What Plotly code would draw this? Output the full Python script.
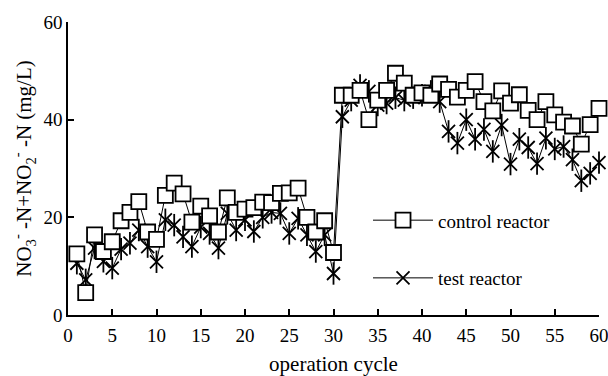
import plotly.graph_objects as go

cycles = list(range(1, 61))
control = [12.5, 4.6, 16.4, 13, 15, 19.3, 21, 23.2, 17, 15.5,
           24.5, 27, 24.8, 19, 22.3, 20.3, 17, 24, 21, 21.7,
           22, 23.1, 23, 24.9, 25, 26, 20, 17, 19.3, 12.8,
           45, 45, 46, 40, 44, 46, 49.5, 47.5, 45, 45.5,
           45, 47.3, 46.2, 44.6, 46, 47.8, 43.7, 41.8, 45.9, 43.4,
           45.1, 41.9, 40, 43.7, 41, 39.5, 38.7, 35, 39, 42.3]
test = [10.6, 7.2, 13.7, 11, 9.6, 13.5, 14.7, 17.4, 14, 10.9,
        19.5, 18.4, 16, 14, 18, 16.7, 13.7, 20.8, 17.4, 19.5,
        17.1, 20, 21, 20.8, 16.7, 19.8, 16.4, 13, 16.4, 8.5,
        40.6, 44, 47, 45.8, 43, 43.4, 44.5, 44, 44.5, 45,
        45.8, 43.7, 37.6, 35.2, 40, 36, 38, 33.5, 38.9, 30.9,
        36, 34.3, 31, 36.2, 34, 34.5, 31.8, 27.5, 29, 31.2]

FONT = "Liberation Serif"

fig = go.Figure()
fig.add_trace(go.Scatter(
    x=cycles, y=test, name="test reactor", mode="markers",
    legendgroup="t", showlegend=False, cliponaxis=False,
    marker=dict(symbol="line-ns-open", size=16, color="black",
                line=dict(color="black", width=1.8)),
))
fig.add_trace(go.Scatter(
    x=cycles, y=test, name="test reactor", mode="lines+markers",
    legendgroup="t", legendrank=2, cliponaxis=False,
    line=dict(color="black", width=1),
    marker=dict(symbol="x-thin-open", size=13, color="black",
                line=dict(color="black", width=1.8)),
))
fig.add_trace(go.Scatter(
    x=cycles, y=control, name="control reactor", mode="lines+markers",
    legendgroup="c", legendrank=1, cliponaxis=False,
    line=dict(color="black", width=1),
    marker=dict(symbol="square", size=15, color="white",
                line=dict(color="black", width=1.8)),
))

fig.update_layout(
    width=608, height=376,
    margin=dict(l=68, r=9, t=22, b=61),
    paper_bgcolor="white", plot_bgcolor="white",
    font=dict(family=FONT, size=19, color="black"),
    showlegend=True,
    legend=dict(x=0.565, y=0.388, xanchor="left", yanchor="top",
                bgcolor="rgba(0,0,0,0)", itemwidth=60,
                tracegroupgap=30, font=dict(family=FONT, size=19)),
    xaxis=dict(range=[0, 60], tickvals=list(range(0, 61, 5)),
               showline=True, linecolor="black", linewidth=1.5,
               ticks="inside", ticklen=6, tickwidth=1.5, tickcolor="black",
               showgrid=False, zeroline=False, ticklabeloverflow="allow",
               ticklabelstandoff=2, automargin=False,
               tickfont=dict(family=FONT, size=19),
               title=dict(text="operation cycle", standoff=14,
                          font=dict(family=FONT, size=21))),
    yaxis=dict(range=[0, 60], tickvals=[0, 20, 40, 60],
               showline=True, linecolor="black", linewidth=1.5,
               ticks="inside", ticklen=6, tickwidth=1.5, tickcolor="black",
               showgrid=False, zeroline=False, automargin=False,
               tickfont=dict(family=FONT, size=19),
               title=dict(text="NO<sub>3</sub><sup>-</sup> -N+NO<sub>2</sub><sup>-</sup> -N (mg/L)",
                          standoff=6, font=dict(family=FONT, size=21))),
)

fig.write_html("out.html")
